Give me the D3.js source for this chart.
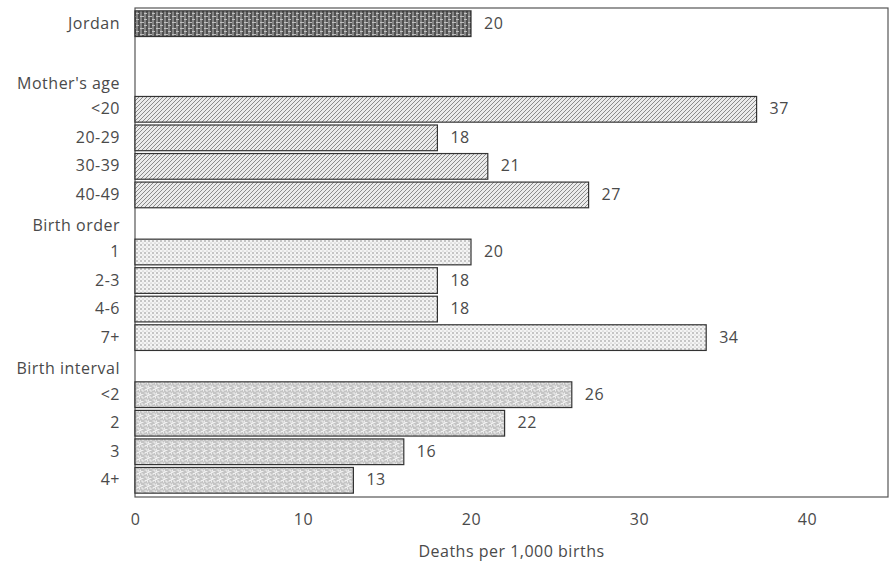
<!DOCTYPE html>
<html>
<head>
<meta charset="utf-8">
<script src="https://cdn.jsdelivr.net/npm/d3@7"></script>
<style>
  body { margin: 0; background: #fff; }
  text { font-family: "Open Sans", "Lato", sans-serif; fill: #4a4a4a; letter-spacing: 0.5px; }
</style>
</head>
<body>
<div id="chart"></div>
<script>
// rows top to bottom: headings have no value
var rows = ["Jordan", "", "Mother's age", "<20", "20-29", "30-39", "40-49",
            "Birth order", "1", "2-3", "4-6", "7+",
            "Birth interval", "<2", "2", "3", "4+"];
var values = [20, null, null, 37, 18, 21, 27, null, 20, 18, 18, 34, null, 26, 22, 16, 13];
var groups = ["total", null, "head", "age", "age", "age", "age", "head",
              "order", "order", "order", "order", "head", "interval", "interval", "interval", "interval"];
var xTicks = [0, 10, 20, 30, 40];

var w = 891, h = 567;
var plotLeft = 135, plotRight = 888, plotTop = 8, plotBottom = 496;
var fs = 16;

var svg = d3.select("#chart").append("svg")
    .attr("width", w)
    .attr("height", h);

// fill patterns for each group
var defs = svg.append("defs");

var pTotal = defs.append("pattern").attr("id", "p-total")
    .attr("patternUnits", "userSpaceOnUse").attr("width", 8).attr("height", 6);
pTotal.append("rect").attr("width", 8).attr("height", 6).attr("fill", "#505050");
pTotal.append("path").attr("d", "M1,0V6M5,0V6M0,1.5H3M4,4.5H8")
    .attr("stroke", "#c8c8c8").attr("stroke-width", 0.9);

var pAge = defs.append("pattern").attr("id", "p-age")
    .attr("patternUnits", "userSpaceOnUse").attr("width", 4).attr("height", 4);
pAge.append("rect").attr("width", 4).attr("height", 4).attr("fill", "#ebebeb");
pAge.append("path").attr("d", "M-1,5L5,-1M-1,1L1,-1M3,5L5,3")
    .attr("stroke", "#808080").attr("stroke-width", 0.9);

var pOrder = defs.append("pattern").attr("id", "p-order")
    .attr("patternUnits", "userSpaceOnUse").attr("width", 4).attr("height", 4);
pOrder.append("rect").attr("width", 4).attr("height", 4).attr("fill", "#f4f4f4");
pOrder.append("circle").attr("cx", 1).attr("cy", 1).attr("r", 0.8).attr("fill", "#8a8a8a");
pOrder.append("circle").attr("cx", 3).attr("cy", 3).attr("r", 0.6).attr("fill", "#aaa");

var pInt = defs.append("pattern").attr("id", "p-interval")
    .attr("patternUnits", "userSpaceOnUse").attr("width", 8).attr("height", 7);
pInt.append("rect").attr("width", 8).attr("height", 7).attr("fill", "#c4c4c4");
pInt.append("path").attr("d", "M0.5,1H3V3.5H5.5M4.5,0.5V2.5H7.5M1,6V4.5H3.5V6.5M6,4V6H8")
    .attr("stroke", "#f4f4f4").attr("stroke-width", 0.9).attr("fill", "none");

var fills = { total: "url(#p-total)", age: "url(#p-age)", order: "url(#p-order)", interval: "url(#p-interval)" };

var x = d3.scaleLinear().domain([0, 40]).range([plotLeft, 807]);
var y = d3.scaleBand().domain(d3.range(rows.length)).range([plotTop, plotBottom]).padding(0.1);

// frame
svg.append("rect")
    .attr("x", plotLeft).attr("y", plotTop)
    .attr("width", plotRight - plotLeft).attr("height", plotBottom + 1 - plotTop)
    .attr("fill", "none").attr("stroke", "#555").attr("stroke-width", 1.2);

var data = rows.map(function(r, i) { return { label: r, value: values[i], group: groups[i], i: i }; });
var barData = data.filter(function(d) { return d.value !== null; });

svg.selectAll(".bar").data(barData).enter().append("rect")
    .attr("class", "bar")
    .attr("x", x(0))
    .attr("y", function(d) { return y(d.i); })
    .attr("width", function(d) { return x(d.value) - x(0); })
    .attr("height", y.bandwidth())
    .attr("fill", function(d) { return fills[d.group]; })
    .attr("stroke", "#333").attr("stroke-width", 1.2);

svg.selectAll(".val").data(barData).enter().append("text")
    .attr("class", "val")
    .attr("x", function(d) { return x(d.value) + 13; })
    .attr("y", function(d) { return y(d.i) + y.bandwidth() / 2 + 5; })
    .attr("font-size", fs)
    .text(function(d) { return d.value; });

// row labels
svg.selectAll(".lab").data(data.filter(function(d) { return d.label; })).enter().append("text")
    .attr("class", "lab")
    .attr("x", 120)
    .attr("y", function(d) { return y(d.i) + y.bandwidth() / 2 + 5 + (d.group === "head" ? 3 : 0); })
    .attr("text-anchor", "end")
    .attr("font-size", fs)
    .text(function(d) { return d.label; });

// x axis without ticks or domain line
var axis = svg.append("g")
    .attr("transform", "translate(0," + (plotBottom + 1) + ")")
    .call(d3.axisBottom(x).tickValues(xTicks).tickSize(0).tickPadding(17));
axis.select(".domain").remove();
axis.selectAll("text").attr("font-size", fs).attr("font-family", "'Open Sans', sans-serif").attr("fill", "#4a4a4a");

svg.append("text")
    .attr("x", (plotLeft + plotRight) / 2)
    .attr("y", 557)
    .attr("text-anchor", "middle")
    .attr("font-size", fs)
    .text("Deaths per 1,000 births");
</script>
</body>
</html>
